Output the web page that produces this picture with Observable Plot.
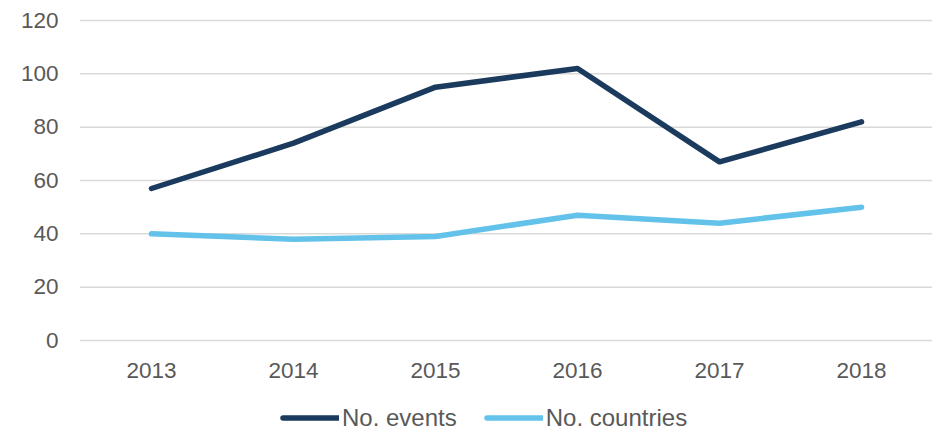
<!DOCTYPE html>
<html>
<head>
<meta charset="utf-8">
<script src="https://cdn.jsdelivr.net/npm/d3@7"></script>
<script src="https://cdn.jsdelivr.net/npm/@observablehq/plot@0.6"></script>
<style>
  html, body { margin: 0; padding: 0; background: #fff; }
  body { width: 934px; height: 430px; overflow: hidden; font-family: "Liberation Sans", Arial, sans-serif; }
  #legend { display: flex; justify-content: flex-start; align-items: center; height: 40px; padding-left: 280px; color: #595959; font-size: 24px; }
  .item { display: flex; align-items: center; }
  .item svg { display: block; }
</style>
</head>
<body>
<div id="chart"></div>
<div id="legend"></div>
<script>
const years = ["2013", "2014", "2015", "2016", "2017", "2018"];
const events = [57, 74, 95, 102, 67, 82];
const countries = [40, 38, 39, 47, 44, 50];
const seriesNames = ["No. events", "No. countries"];
const seriesColors = ["#1a3a5e", "#63c2ea"];
const yTicks = [0, 20, 40, 60, 80, 100, 120];

const data = [];
years.forEach((y, i) => {
  data.push({year: y, value: events[i], series: seriesNames[0]});
  data.push({year: y, value: countries[i], series: seriesNames[1]});
});

const plot = Plot.plot({
  width: 934,
  height: 398,
  marginLeft: 80,
  marginRight: 2,
  marginTop: 20,
  marginBottom: 58,
  style: {fontFamily: "Liberation Sans, Arial, sans-serif", fontSize: "22.5px", color: "#595959", background: "#fff"},
  x: {type: "point", domain: years, padding: 0.5, label: null},
  y: {domain: [0, 120], label: null},
  color: {domain: seriesNames, range: seriesColors},
  marks: [
    Plot.ruleY(yTicks, {stroke: "#d9d9d9", strokeWidth: 1.5}),
    Plot.axisY({ticks: yTicks, tickSize: 0, tickPadding: 22, label: null, fill: "#595959"}),
    Plot.axisX({tickSize: 0, tickPadding: 22, label: null, fill: "#595959"}),
    Plot.line(data, {x: "year", y: "value", z: "series", stroke: "series", strokeWidth: 5.5, strokeLinejoin: "round", strokeLinecap: "round"})
  ]
});
document.getElementById("chart").appendChild(plot);

const legend = document.getElementById("legend");
seriesNames.forEach((name, i) => {
  const item = document.createElement("div");
  item.className = "item";
  if (i > 0) item.style.marginLeft = "27px";
  item.innerHTML = `<svg width="59" height="10"><line x1="3" y1="5" x2="58" y2="5" stroke="${seriesColors[i]}" stroke-width="5.5" stroke-linecap="round"/></svg><span style="margin-left:3px">${name}</span>`;
  legend.appendChild(item);
});
</script>
</body>
</html>
